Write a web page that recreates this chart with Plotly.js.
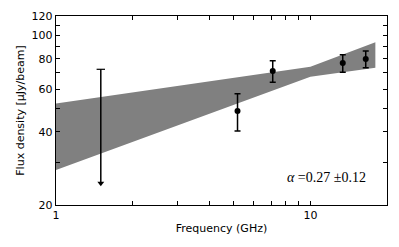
<!DOCTYPE html>
<html>
<head>
<meta charset="utf-8">
<script src="https://cdn.plot.ly/plotly-3.0.1.min.js"></script>
<style>html,body{margin:0;padding:0;background:#fff;}#chart{width:399px;height:247px;}</style>
</head>
<body>
<div id="chart"></div>
<script>
// Measured flux densities
var freq = [5.17, 7.11, 13.4, 16.5];
var flux = [48.8, 71.2, 76.9, 79.8];
var errPlus = [8.6, 7.3, 6.3, 6.3];
var errMinus = [8.5, 7.2, 6.5, 6.3];

// Upper limit
var ulFreq = [1.5, 1.5];
var ulFlux = [72.4, 24.6];

// Power-law fit uncertainty band
var bandFreq = [1, 10, 18];
var bandUpper = [52.4, 74.2, 93.5];
var bandLower = [27.9, 67.5, 73.5];

var yTickVals = [20, 30, 40, 50, 60, 70, 80, 90, 100, 110, 120];
var yTickText = ['20', '', '40', '', '60', '', '80', '', '100', '', '120'];
var xTickVals = [1, 2, 3, 4, 5, 6, 7, 8, 9, 10, 20];
var xTickText = ['1', '', '', '', '', '', '', '', '', '10', ''];

var bandX = bandFreq.concat(bandFreq.slice().reverse());
var bandY = bandUpper.concat(bandLower.slice().reverse());

var traces = [
  {x: bandX, y: bandY, type: 'scatter', mode: 'lines', fill: 'toself',
   fillcolor: '#808080', line: {width: 0, color: '#808080'}, hoverinfo: 'skip', showlegend: false},
  {x: ulFreq, y: ulFlux, type: 'scatter', mode: 'lines',
   line: {color: '#000', width: 1.5}, showlegend: false},
  {x: [ulFreq[0]], y: [ulFlux[0]], type: 'scatter', mode: 'markers',
   marker: {symbol: 'line-ew', size: 6, line: {color: '#000', width: 1.2}}, showlegend: false},
  {x: [ulFreq[1]], y: [ulFlux[1]], type: 'scatter', mode: 'markers',
   marker: {symbol: 'triangle-down', size: 6, color: '#000'}, showlegend: false},
  {x: freq, y: flux, type: 'scatter', mode: 'markers',
   marker: {color: '#000', size: 6},
   error_y: {type: 'data', symmetric: false, array: errPlus, arrayminus: errMinus,
             color: '#000', thickness: 1.5, width: 3},
   showlegend: false}
];

var layout = {
  width: 399, height: 247,
  margin: {l: 56, r: 12, t: 16, b: 42},
  paper_bgcolor: '#fff', plot_bgcolor: '#fff',
  font: {family: 'DejaVu Sans', size: 11, color: '#000'},
  xaxis: {
    type: 'log', range: [0, Math.log10(20)],
    tickvals: xTickVals, ticktext: xTickText,
    ticks: 'inside', ticklen: 4, tickwidth: 1, tickcolor: '#000',
    showline: true, linecolor: '#000', linewidth: 1.2, mirror: 'ticks',
    showgrid: false, zeroline: false,
    tickfont: {size: 11},
    title: {text: 'Frequency (GHz)', font: {size: 11}, standoff: 2}
  },
  yaxis: {
    type: 'log', range: [Math.log10(20), Math.log10(120)],
    tickvals: yTickVals, ticktext: yTickText,
    ticks: 'inside', ticklen: 4, tickwidth: 1, tickcolor: '#000',
    showline: true, linecolor: '#000', linewidth: 1.2, mirror: 'ticks',
    showgrid: false, zeroline: false,
    tickfont: {size: 11},
    title: {text: 'Flux density [μJy/beam]', font: {size: 11}, standoff: 4}
  },
  annotations: [{
    xref: 'paper', yref: 'paper', x: 0.943, y: 0.144,
    xanchor: 'right', yanchor: 'middle', showarrow: false,
    text: '<i>α</i> =0.27 ±0.12',
    font: {family: 'Liberation Serif', size: 14, color: '#000'}
  }]
};

Plotly.newPlot('chart', traces, layout, {displayModeBar: false, staticPlot: true});
</script>
</body>
</html>
